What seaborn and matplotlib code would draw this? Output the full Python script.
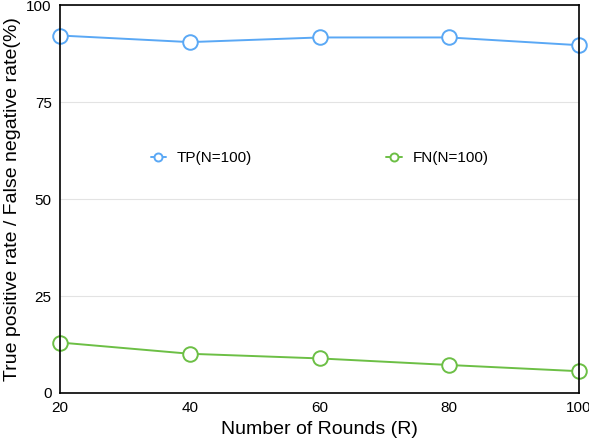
import matplotlib
matplotlib.use('Agg')
import matplotlib.pyplot as plt
import seaborn as sb
import pandas as pd

rounds = [20, 40, 60, 80, 100]
tp_rate = [92.2, 90.5, 91.7, 91.7, 89.7]
fn_rate = [13.0, 10.1, 8.9, 7.2, 5.6]
series_names = ['TP(N=100)', 'FN(N=100)']
y_ticks = [0, 25, 50, 75, 100]

sb.set_style('white')
plt.rcParams['font.family'] = ['Liberation Sans', 'DejaVu Sans']
plt.rcParams['text.color'] = 'black'
plt.rcParams['axes.labelcolor'] = 'black'
plt.rcParams['xtick.color'] = 'black'
plt.rcParams['ytick.color'] = 'black'

df = pd.DataFrame({
    'Rounds': rounds * 2,
    'Rate': tp_rate + fn_rate,
    'Series': [series_names[0]] * len(rounds) + [series_names[1]] * len(rounds),
})

fig = plt.figure(figsize=(5.89, 4.4), dpi=100)
ax = fig.add_axes([0.102, 0.107, 0.881, 0.881])

palette = {series_names[0]: '#5aa8f5', series_names[1]: '#6cbf45'}
sb.lineplot(data=df, x='Rounds', y='Rate', hue='Series', palette=palette,
            marker='o', markersize=10.5, markerfacecolor='white',
            markeredgewidth=1.4, linewidth=1.4, ax=ax, clip_on=False)

# marker edge colours follow line colour
for line in ax.get_lines():
    line.set_markeredgecolor(line.get_color())

ax.set_xlim(20, 100)
ax.set_ylim(0, 100)
ax.set_xticks(rounds)
ax.set_yticks(y_ticks)
ax.yaxis.grid(True, color='#e3e3e3', linewidth=0.8)
ax.set_axisbelow(True)
ax.tick_params(axis='both', length=0, labelsize=11, pad=6)
for s in ax.spines.values():
    s.set_color('black')
    s.set_linewidth(1.2)

ax.set_xlabel('Number of Rounds (R)', fontsize=14, labelpad=4)
ax.set_ylabel('True positive rate / False negative rate(%)', fontsize=14, labelpad=4)

handles, labels = ax.get_legend_handles_labels()
leg = ax.legend(handles, labels, ncol=2, frameon=False, loc='center',
                bbox_to_anchor=(0.5, 0.605), fontsize=11, markerscale=0.55,
                handlelength=1.0, columnspacing=8.8, handletextpad=0.7)
for h in leg.legend_handles:
    h.set_markerfacecolor('white')
    h.set_markeredgecolor(h.get_color())

fig.savefig('out.png', dpi=100)
